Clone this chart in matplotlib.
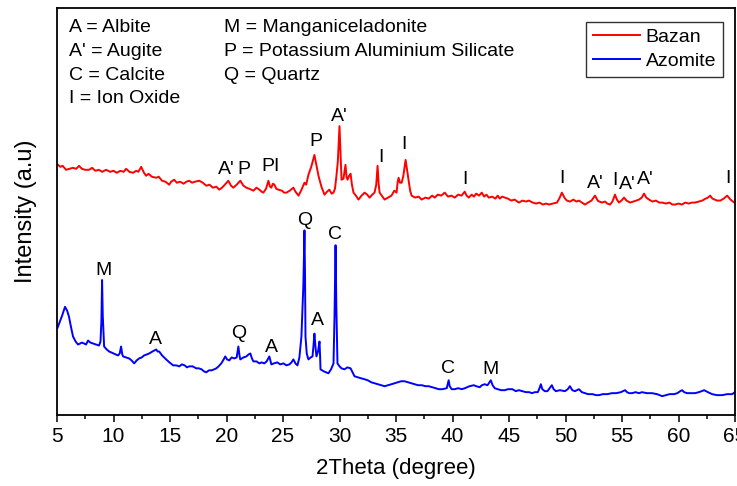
import numpy as np
import matplotlib.pyplot as plt

plt.rcParams['font.family'] = ['Liberation Sans', 'DejaVu Sans']

# Bazan (red) pattern: 2theta and intensity (a.u.)
bazan_2t = [5.09, 5.3, 5.5, 5.8, 6.1, 6.4, 6.7, 6.95, 7.2, 7.5, 7.84, 8.1, 8.4, 8.7, 9.0, 9.34, 9.7,
            10.0, 10.3, 10.6, 10.9, 11.12, 11.4, 11.74, 12.0, 12.2, 12.45, 12.7, 12.89, 13.1, 13.4,
            13.78, 14.0, 14.3, 14.6, 14.93, 15.1, 15.37, 15.6, 15.9, 16.2, 16.45, 16.7, 16.95, 17.2,
            17.59, 17.9, 18.21, 18.5, 18.8, 19.1, 19.36, 19.6, 19.85, 20.16, 20.4, 20.6, 20.9, 21.22,
            21.5, 21.76, 22.0, 22.38, 22.65, 22.91, 23.1, 23.26, 23.5, 23.71, 23.85, 23.97, 24.1,
            24.24, 24.4, 24.59, 24.9, 25.1, 25.3, 25.6, 25.92, 26.1, 26.37, 26.6, 26.9, 27.05, 27.25,
            27.5, 27.78, 27.95, 28.14, 28.4, 28.67, 28.9, 29.1, 29.3, 29.47, 29.6, 29.73, 29.85, 30.0,
            30.1, 30.18, 30.35, 30.53, 30.62, 30.71, 30.85, 30.98, 31.1, 31.24, 31.45, 31.68, 31.95,
            32.22, 32.45, 32.66, 32.9, 33.1, 33.25, 33.37, 33.47, 33.55, 33.8, 33.99, 34.3, 34.6,
            34.85, 35.05, 35.15, 35.23, 35.35, 35.5, 35.65, 35.85, 36.0, 36.12, 36.25, 36.38, 36.7,
            37.0, 37.27, 37.6, 37.9, 38.2, 38.42, 38.7, 39.0, 39.31, 39.6, 39.9, 40.2, 40.5, 40.8,
            41.08, 41.25, 41.44, 41.7, 41.9, 42.1, 42.35, 42.59, 42.8, 43.0, 43.21, 43.5, 43.8, 44.0,
            44.18, 44.4, 44.63, 44.9, 45.2, 45.5, 45.87, 46.2, 46.5, 46.76, 47.1, 47.4, 47.7, 48.0,
            48.3, 48.53, 48.9, 49.24, 49.45, 49.68, 49.9, 50.12, 50.4, 50.7, 50.95, 51.19, 51.45,
            51.72, 52.0, 52.3, 52.61, 52.85, 53.0, 53.23, 53.5, 53.7, 53.94, 54.15, 54.38, 54.55,
            54.73, 54.95, 55.18, 55.4, 55.71, 56.0, 56.25, 56.51, 56.75, 56.95, 57.15, 57.39, 57.7,
            58.0, 58.3, 58.55, 58.9, 59.2, 59.45, 59.7, 60.0, 60.3, 60.6, 60.9, 61.2, 61.47, 61.8,
            62.1, 62.4, 62.6, 62.8, 63.0, 63.2, 63.42, 63.7, 64.0, 64.31, 64.6, 64.93, 65.4]
bazan_int = [252, 250, 251, 247, 248, 249, 248, 251, 248, 247, 247, 249, 246, 247, 245, 247, 245,
             246, 244, 246, 245, 248, 245, 244, 246, 245, 250, 244, 241, 243, 240,
             239, 240, 236, 235, 232, 235, 237, 234, 235, 233, 235, 236, 234, 235,
             236, 234, 231, 232, 229, 230, 227, 229, 232, 236, 231, 229, 232, 236,
             231, 229, 228, 226, 229, 227, 225, 224, 228, 236, 230, 229, 233,
             232, 228, 227, 226, 224, 224, 226, 229, 225, 221, 226, 234, 232, 242,
             250, 262, 252, 241, 230, 222, 225, 227, 223, 224, 228, 241, 255, 291,
             260, 237, 238, 252, 240, 237, 241, 243, 232, 224, 221, 217, 221,
             224, 222, 219, 222, 224, 232, 251, 232, 224, 220, 217, 219, 221,
             226, 224, 235, 239, 234, 234, 241, 257, 245, 236, 226, 221, 219,
             220, 217, 219, 218, 221, 219, 222, 221, 224, 220, 221, 219, 222, 221,
             225, 221, 219, 222, 220, 223, 221, 224, 220, 222, 219, 220, 218, 221,
             218, 220, 219, 218, 216, 217, 214, 216, 215, 216, 214, 213, 214, 212,
             213, 212, 213, 214, 218, 224, 219, 216, 215, 217, 215, 216, 214,
             212, 214, 216, 221, 216, 215, 214, 215, 213, 212, 215, 222, 217,
             214, 216, 219, 216, 214, 215, 216, 217, 219, 223, 219, 217, 215,
             216, 214, 214, 213, 214, 212, 212, 213, 212, 214, 213, 214, 214, 215,
             216, 218, 219, 221, 218, 217, 216, 216, 218, 221, 217, 214, 212]

# Azomite (blue) pattern
azomite_2t = [5.05, 5.18, 5.45, 5.71, 5.9, 6.06, 6.25, 6.42, 6.65, 6.86, 7.05, 7.2, 7.4, 7.57, 7.75,
              7.95, 8.19, 8.45, 8.72, 8.85, 8.93, 8.99, 9.05, 9.17, 9.4, 9.61, 9.8, 10.0, 10.2, 10.41,
              10.55, 10.67, 10.78, 10.85, 11.1, 11.38, 11.6, 11.83, 12.05, 12.27, 12.5, 12.7, 12.95,
              13.16, 13.45, 13.78, 13.9, 14.04, 14.3, 14.66, 14.95, 15.28, 15.55, 15.82, 16.05, 16.3,
              16.5, 16.7, 17.0, 17.32, 17.55, 17.8, 18.0, 18.21, 18.45, 18.7, 18.9, 19.1, 19.3, 19.54,
              19.75, 19.89, 20.05, 20.25, 20.45, 20.69, 20.9, 21.05, 21.15, 21.22, 21.5, 21.76, 21.95,
              22.11, 22.25, 22.38, 22.65, 22.91, 23.1, 23.35, 23.55, 23.79, 23.88, 23.97, 24.2, 24.5,
              24.75, 25.04, 25.3, 25.57, 25.75, 25.92, 26.1, 26.28, 26.45, 26.63, 26.8, 26.9, 26.95,
              26.99, 27.1, 27.25, 27.45, 27.61, 27.7, 27.78, 27.88, 27.96, 28.1, 28.23, 28.28, 28.32,
              28.6, 29.02, 29.25, 29.47, 29.56, 29.65, 29.72, 29.82, 30.0, 30.18, 30.44, 30.7, 30.98,
              31.15, 31.33, 31.6, 31.9, 32.22, 32.5, 32.8, 33.1, 33.4, 33.7, 33.99, 34.3, 34.6, 34.88,
              35.15, 35.45, 35.76, 36.05, 36.35, 36.65, 36.95, 37.3, 37.6, 37.89, 38.2, 38.5, 38.78,
              39.1, 39.49, 39.58, 39.66, 39.75, 39.93, 40.2, 40.5, 40.82, 41.1, 41.5, 41.88, 42.1,
              42.41, 42.6, 42.85, 43.1, 43.39, 43.55, 43.74, 44.0, 44.3, 44.63, 44.9, 45.3, 45.6,
              45.87, 46.2, 46.5, 46.8, 47.02, 47.3, 47.55, 47.7, 47.82, 47.95, 48.17, 48.4, 48.6,
              48.79, 48.95, 49.15, 49.5, 49.95, 50.2, 50.39, 50.6, 50.83, 51.0, 51.19, 51.45, 51.72,
              52.0, 52.4, 52.7, 52.96, 53.3, 53.7, 54.11, 54.5, 54.9, 55.27, 55.45, 55.62, 55.9, 56.2,
              56.5, 56.77, 57.2, 57.66, 58.1, 58.55, 58.9, 59.2, 59.61, 59.9, 60.15, 60.32, 60.5,
              60.76, 61.1, 61.47, 61.8, 62.05, 62.27, 62.6, 62.98, 63.4, 63.87, 64.3, 64.75, 65.11]
azomite_int = [88, 92, 100, 109, 105, 99, 88, 79, 74, 71, 72, 73, 72, 71, 75,
               73, 72, 71, 70, 74, 95, 136, 100, 69, 66, 64, 63, 62, 61, 60,
               62, 69, 61, 59, 58, 57, 55, 52, 55, 57, 58, 60, 61,
               62, 64, 66, 64, 64, 60, 56, 53, 50, 50, 49, 51, 50,
               48, 49, 49, 47, 47, 46, 44, 43, 45, 45, 46, 47, 49, 52,
               56, 59, 56, 55, 58, 57, 58, 69, 60, 56, 58, 59, 61,
               62, 57, 54, 54, 52, 53, 52, 54, 59, 55, 51, 52, 53,
               51, 52, 50, 51, 53, 56, 52, 50, 58, 79, 130, 186, 140,
               79, 62, 56, 58, 59, 70, 82, 68, 59, 64, 74, 60, 46,
               44, 42, 46, 52, 100, 171, 110, 52, 49, 47, 46, 48, 47,
               43, 39, 38, 37, 36, 35, 33, 32, 31, 30, 29, 30, 31, 32,
               33, 34, 34, 33, 32, 31, 30, 30, 29, 29, 28, 27, 26,
               26, 27, 31, 35, 29, 26, 26, 27, 26, 27, 29, 30, 29,
               28, 30, 31, 30, 35, 30, 27, 26, 25, 25, 26, 26, 24,
               25, 24, 23, 23, 22, 23, 23, 27, 31, 26, 24, 24, 27,
               30, 26, 24, 25, 24, 26, 29, 25, 24, 25, 26, 23, 22,
               21, 21, 20, 20, 21, 21, 22, 22, 23, 25, 23, 22, 22, 23,
               22, 23, 22, 22, 21, 19, 20, 21, 21, 22, 24, 25, 23,
               22, 22, 22, 23, 24, 25, 23, 21, 20, 20, 21, 21, 24]

# peak labels: 2theta, intensity, text
bazan_lab_x = [19.98, 21.58, 23.62, 24.41, 27.87, 30.00, 33.63, 35.67, 41.08, 49.68, 52.61, 54.38,
               55.44, 57.04, 64.40]
bazan_lab_y = [247, 247, 250, 250, 276, 301, 259, 272, 237, 238, 233, 236, 232, 237, 238]
bazan_lab_t = ["A'", "P", "P", "I", "P", "A'", "I", "I", "I", "I", "A'", "I", "A'", "A'", "I"]
azomite_lab_x = [9.08, 13.69, 21.05, 23.97, 28.05, 26.90, 29.56, 39.57, 43.39]
azomite_lab_y = [146, 76, 82, 68, 95, 196, 182, 47, 46]
azomite_lab_t = ["M", "A", "Q", "A", "A", "Q", "C", "C", "M"]

key_col1 = ["A = Albite", "A' = Augite", "C = Calcite", "I = Ion Oxide"]
key_col2 = ["M = Manganiceladonite", "P = Potassium Aluminium Silicate", "Q = Quartz"]

fig = plt.figure(figsize=(7.37, 4.86), dpi=100)
ax = fig.add_axes([57 / 737, 1 - 415 / 486, 678 / 737, 407 / 486])

ax.plot(bazan_2t, bazan_int, color='#ff0000', lw=1.4, label='Bazan')
ax.plot(azomite_2t, azomite_int, color='#0000ff', lw=1.4, label='Azomite')

for x, y, t in zip(bazan_lab_x + azomite_lab_x, bazan_lab_y + azomite_lab_y,
                   bazan_lab_t + azomite_lab_t):
    ax.text(x, y, t, ha='center', va='center', fontsize=14)

for i, t in enumerate(key_col1):
    fig.text(69 / 737, 1 - (28 + 23.5 * i) / 486, t, ha='left', va='center', fontsize=14)
for i, t in enumerate(key_col2):
    fig.text(224 / 737, 1 - (28 + 23.5 * i) / 486, t, ha='left', va='center', fontsize=14)

ax.set_xlim(5, 65)
ax.set_ylim(0, 410)
ax.set_xticks(np.arange(5, 66, 5))
ax.set_xticks(np.arange(7.5, 65, 5), minor=True)
ax.tick_params(axis='x', which='major', direction='out', length=5, width=1.1, labelsize=15)
ax.tick_params(axis='x', which='minor', direction='out', length=3, width=1.1)
ax.set_yticks([])
for s in ax.spines.values():
    s.set_linewidth(1.3)

ax.set_xlabel('2Theta (degree)', fontsize=16, labelpad=9)
ax.set_ylabel('Intensity (a.u)', fontsize=17)
ax.yaxis.set_label_coords(-0.03, 0.5)

leg = ax.legend(loc='upper right', bbox_to_anchor=(0.982, 0.966), borderaxespad=0,
                fontsize=14, frameon=True, fancybox=False, edgecolor='black',
                handlelength=2.4, handletextpad=0.3, borderpad=0.35, labelspacing=0.3)
leg.get_frame().set_linewidth(1.0)

fig.savefig('out.png', dpi=100)
